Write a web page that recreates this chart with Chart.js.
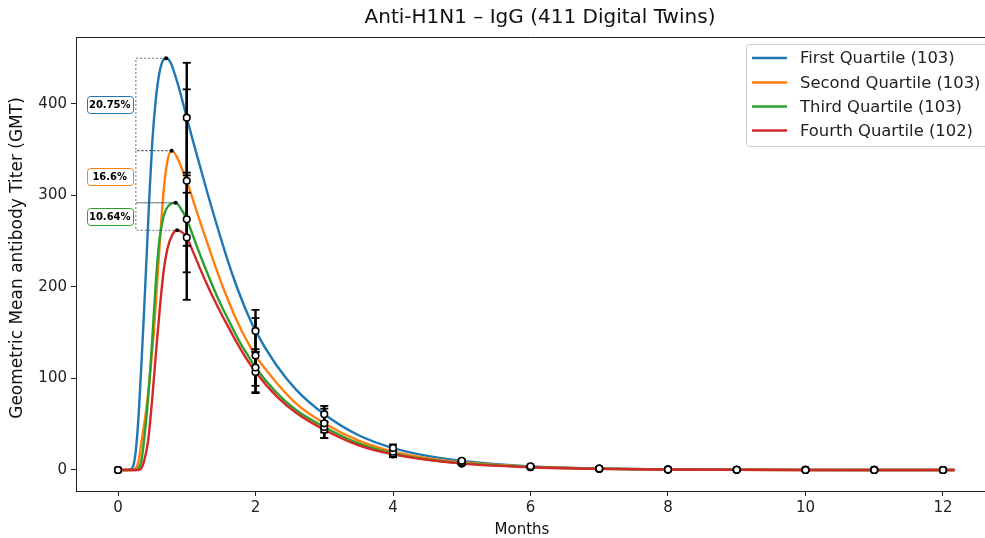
<!DOCTYPE html>
<html>
<head>
<meta charset="utf-8">
<script src="https://cdn.jsdelivr.net/npm/chart.js@4"></script>
<style>
    html, body { margin: 0; padding: 0; background: #fff; overflow: hidden; }
</style>
</head>
<body>
<canvas id="gmtChart" width="985" height="538"></canvas>
<script>
// Serier
const seriesNames = ["First Quartile (103)", "Second Quartile (103)", "Third Quartile (103)", "Fourth Quartile (102)"];
const seriesColors = ["#1f77b4", "#ff7f0e", "#2ca02c", "#d62728"];

// Mätpunkter (månader)
const months = [0, 1, 2, 3, 4, 5, 6, 7, 8, 9, 10, 11, 12];
const q1Obs = [0, 385, 152, 61, 24, 10, 4, 1.6, 0.6, 0.25, 0.1, 0.04, 0.02];
const q2Obs = [0, 316, 125, 51, 20, 8.5, 3.5, 1.4, 0.5, 0.2, 0.08, 0.03, 0.01];
const q3Obs = [0, 274, 112, 47, 18, 7.5, 3.2, 1.3, 0.5, 0.2, 0.08, 0.03, 0.01];
const q4Obs = [0, 254, 107, 44, 17, 7, 3, 1.2, 0.5, 0.2, 0.08, 0.03, 0.01];
const q1Err = [0, 60, 23, 9, 4, 1.5, 0, 0, 0, 0, 0, 0, 0];
const q2Err = [0, 100, 41, 16, 3, 1, 0, 0, 0, 0, 0, 0, 0];
const q3Err = [0, 29, 20, 6, 3, 1, 0, 0, 0, 0, 0, 0, 0];
const q4Err = [0, 68, 22, 9, 3, 1, 0, 0, 0, 0, 0, 0, 0];

// Modellkurvor
const q1T = [0, 0.12, 0.18, 0.22, 0.26, 0.30, 0.34, 0.38, 0.42, 0.46, 0.50, 0.55, 0.60, 0.65, 0.70, 0.76, 0.82, 0.90, 1.0, 1.1, 1.2, 1.3, 1.4, 1.5, 1.6, 1.7, 1.8, 1.9, 2.0, 2.3, 2.6, 3.0, 3.5, 4, 4.5, 5, 6, 7, 8, 9, 10, 11, 12.17];
const q1V = [0, 0, 1, 4, 22, 60, 115, 175, 240, 305, 360, 405, 433, 447, 450, 446, 434, 414, 385, 357, 330, 303, 277, 252, 228, 206, 186, 168, 152, 115, 87, 61, 38, 24, 15.5, 10, 4, 1.6, 0.6, 0.25, 0.1, 0.04, 0.02];
const q2T = [0, 0.2, 0.26, 0.30, 0.34, 0.40, 0.46, 0.52, 0.57, 0.62, 0.67, 0.72, 0.78, 0.85, 0.92, 1.0, 1.1, 1.2, 1.3, 1.4, 1.5, 1.6, 1.7, 1.8, 1.9, 2.0, 2.3, 2.6, 3.0, 3.5, 4, 4.5, 5, 6, 7, 8, 9, 10, 11, 12.17];
const q2V = [0, 0, 2, 10, 30, 60, 100, 150, 205, 262, 310, 338, 349, 343, 331, 316, 293, 270, 248, 226, 205, 186, 168, 152, 138, 125, 96, 72, 51, 32, 20, 13, 8.5, 3.5, 1.4, 0.5, 0.2, 0.08, 0.03, 0.01];
const q3T = [0, 0.26, 0.30, 0.34, 0.38, 0.44, 0.50, 0.55, 0.60, 0.65, 0.70, 0.77, 0.84, 0.92, 1.0, 1.1, 1.2, 1.3, 1.4, 1.5, 1.6, 1.7, 1.8, 1.9, 2.0, 2.3, 2.6, 3.0, 3.5, 4, 4.5, 5, 6, 7, 8, 9, 10, 11, 12.17];
const q3V = [0, 0, 2, 10, 33, 80, 145, 205, 250, 273, 285, 291, 292, 285, 274, 254, 234, 215, 197, 180, 165, 150, 136, 124, 112, 85, 65, 47, 29, 18, 11.5, 7.5, 3.2, 1.3, 0.5, 0.2, 0.08, 0.03, 0.01];
const q4T = [0, 0.30, 0.34, 0.38, 0.44, 0.50, 0.56, 0.61, 0.66, 0.72, 0.79, 0.86, 0.93, 1.0, 1.1, 1.2, 1.3, 1.4, 1.5, 1.6, 1.7, 1.8, 1.9, 2.0, 2.3, 2.6, 3.0, 3.5, 4, 4.5, 5, 6, 7, 8, 9, 10, 11, 12.17];
const q4V = [0, 0, 2, 10, 33, 80, 135, 178, 215, 242, 257, 262, 260, 254, 237, 219, 202, 186, 171, 157, 143, 130, 118, 107, 81, 62, 44, 27, 17, 11, 7, 3, 1.2, 0.5, 0.2, 0.08, 0.03, 0.01];

// Toppar och skillnader
const peakX = [0.70, 0.78, 0.84, 0.86];
const peakY = [450, 349, 292, 262];
const gapLabels = ["20.75%", "16.6%", "10.64%"];
const bracketX = 0.26;
const gapLabelX = -0.12;

// Axlar
const xTicks = [0, 2, 4, 6, 8, 10, 12];
const yTicks = [0, 100, 200, 300, 400];
const xMin = -0.611, xMax = 12.611;
const yMin = -22.95, yMax = 473.2;

Chart.defaults.font.family = "'DejaVu Sans', sans-serif";
Chart.defaults.color = "#222";

const curveT = [q1T, q2T, q3T, q4T];
const curveV = [q1V, q2V, q3V, q4V];
const obs = [q1Obs, q2Obs, q3Obs, q4Obs];
const errs = [q1Err, q2Err, q3Err, q4Err];

const datasets = [];

// Kurvor
curveT.forEach((t, i) => {
    datasets.push({
        label: seriesNames[i],
        data: t.map((x, k) => ({ x: x, y: curveV[i][k] })),
        borderColor: seriesColors[i],
        borderWidth: 2.4,
        pointRadius: 0,
        cubicInterpolationMode: "monotone",
        fill: false,
        order: 10 - i
    });
});

// Streckade klamrar mellan topparna
for (let i = 0; i < 3; i++) {
    datasets.push({
        label: "bracket",
        data: [
            { x: peakX[i], y: peakY[i] },
            { x: bracketX, y: peakY[i] },
            { x: bracketX, y: peakY[i + 1] },
            { x: peakX[i + 1], y: peakY[i + 1] }
        ],
        borderColor: "#444",
        borderWidth: 0.8,
        borderDash: [2, 2],
        pointRadius: 0,
        tension: 0,
        order: 5
    });
}

// Felstaplar
obs.forEach((o, i) => {
    const pts = [];
    months.forEach((m, k) => {
        if (errs[i][k] > 0) {
            pts.push({ x: m, y: o[k] - errs[i][k] }, { x: m, y: o[k] + errs[i][k] }, { x: m, y: null });
        }
    });
    datasets.push({
        label: "err",
        data: pts,
        borderColor: "#000",
        borderWidth: 2.4,
        pointStyle: "line",
        pointRadius: 4,
        pointBorderWidth: 1.8,
        pointBorderColor: "#000",
        spanGaps: false,
        tension: 0,
        order: 3
    });
});

// Markörer
obs.forEach((o, i) => {
    datasets.push({
        label: "obs",
        data: months.map((m, k) => ({ x: m, y: o[k] })),
        showLine: false,
        pointRadius: 3.3,
        pointBackgroundColor: "#fff",
        pointBorderColor: "#000",
        pointBorderWidth: 1.6,
        order: 2
    });
});

// Toppunkter
datasets.push({
    label: "peaks",
    data: peakX.map((x, i) => ({ x: x, y: peakY[i] })),
    showLine: false,
    pointRadius: 2,
    pointBackgroundColor: "#000",
    pointBorderColor: "#000",
    pointBorderWidth: 0,
    order: 1
});

// Etiketter, legend och texter
const annotations = {
    id: "annotations",
    afterDatasetsDraw(chart) {
        const ctx = chart.ctx;
        const xs = chart.scales.x, ys = chart.scales.y;
        ctx.save();
        ctx.font = "bold 10px 'DejaVu Sans'";
        ctx.textAlign = "center";
        ctx.textBaseline = "middle";
        for (let i = 0; i < 3; i++) {
            const cx = xs.getPixelForValue(gapLabelX);
            const cy = ys.getPixelForValue((peakY[i] + peakY[i + 1]) / 2);
            ctx.beginPath();
            ctx.roundRect(Math.round(cx - 23) + 0.5, Math.round(cy - 8.5) + 0.5, 46, 17, 3);
            ctx.fillStyle = "#fff";
            ctx.fill();
            ctx.lineWidth = 1;
            ctx.strokeStyle = seriesColors[i];
            ctx.stroke();
            ctx.fillStyle = "#000";
            ctx.fillText(gapLabels[i], cx, cy + 0.5);
        }
        ctx.restore();
    },
    afterDraw(chart) {
        const ctx = chart.ctx;
        const area = chart.chartArea;
        ctx.save();
        // övre ram
        ctx.strokeStyle = "#222";
        ctx.lineWidth = 1;
        ctx.beginPath();
        ctx.moveTo(area.left, area.top + 0.5);
        ctx.lineTo(area.right, area.top + 0.5);
        ctx.stroke();

        // legend
        ctx.beginPath();
        ctx.roundRect(746.5, 44.5, 260, 102, 3);
        ctx.fillStyle = "rgba(255,255,255,0.85)";
        ctx.fill();
        ctx.strokeStyle = "#cccccc";
        ctx.stroke();
        const rowY = [58, 82.5, 106.5, 130.5];
        ctx.font = "16.4px 'DejaVu Sans'";
        ctx.textAlign = "left";
        ctx.textBaseline = "middle";
        seriesNames.forEach((name, i) => {
            ctx.beginPath();
            ctx.moveTo(752, rowY[i]);
            ctx.lineTo(787, rowY[i]);
            ctx.strokeStyle = seriesColors[i];
            ctx.lineWidth = 2.4;
            ctx.stroke();
            ctx.fillStyle = "#222";
            ctx.fillText(name, 800, rowY[i] + 1);
        });

        // titlar
        ctx.fillStyle = "#111";
        ctx.textAlign = "center";
        ctx.font = "20px 'DejaVu Sans'";
        ctx.fillText("Anti-H1N1 \u2013 IgG (411 Digital Twins)", 540, 18);
        ctx.font = "15px 'DejaVu Sans'";
        ctx.fillText("Months", 522, 530);
        ctx.translate(18, 258);
        ctx.rotate(-Math.PI / 2);
        ctx.font = "17px 'DejaVu Sans'";
        ctx.fillText("Geometric Mean antibody Titer (GMT)", 0, 0);
        ctx.restore();
    }
};

new Chart(document.getElementById("gmtChart"), {
    type: "line",
    data: { datasets: datasets },
    options: {
        responsive: false,
        animation: false,
        layout: { autoPadding: false, padding: { top: 37, left: 0, right: 0, bottom: 0 } },
        plugins: {
            legend: { display: false },
            tooltip: { enabled: false }
        },
        scales: {
            x: {
                type: "linear",
                min: xMin,
                max: xMax,
                afterBuildTicks: s => { s.ticks = xTicks.map(v => ({ value: v })); },
                afterFit: s => { s.height = 47; },
                ticks: { font: { size: 15 }, color: "#222", padding: 3, maxRotation: 0 },
                grid: { display: true, drawOnChartArea: false, drawTicks: true, tickLength: 5, color: "#222" },
                border: { display: true, color: "#222", width: 1 }
            },
            y: {
                type: "linear",
                min: yMin,
                max: yMax,
                afterBuildTicks: s => { s.ticks = yTicks.map(v => ({ value: v })); },
                afterFit: s => { s.width = 76; },
                ticks: { font: { size: 15 }, color: "#222", padding: 4 },
                grid: { display: true, drawOnChartArea: false, drawTicks: true, tickLength: 5, color: "#222" },
                border: { display: true, color: "#222", width: 1 }
            }
        }
    },
    plugins: [annotations]
});
</script>
</body>
</html>
